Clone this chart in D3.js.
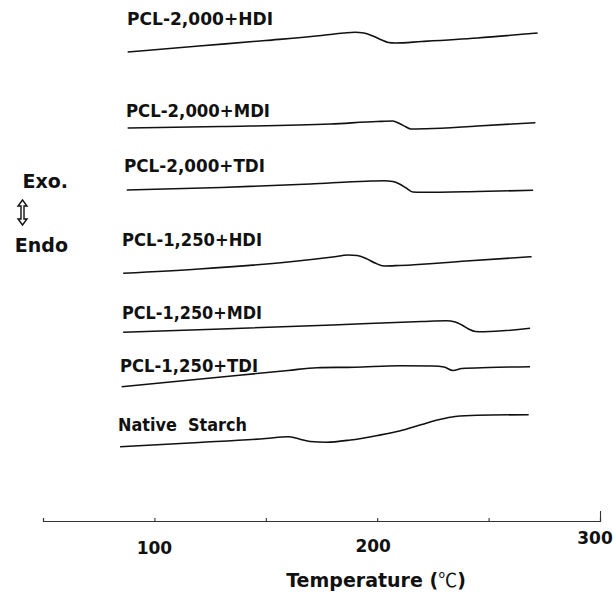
<!DOCTYPE html>
<html>
<head>
<meta charset="utf-8">
<script src="https://cdn.jsdelivr.net/npm/d3@7"></script>
<style>
  body { margin: 0; background: #fff; }
  text { font-family: "DejaVu Sans", Arial, sans-serif; font-weight: bold; fill: #111; }
</style>
</head>
<body>
<svg id="dsc" width="613" height="594"></svg>
<script>
// DSC thermograms: [temperature (C), heat flow signal (arbitrary, offset per curve)]
const pcl2000HDI = [[88,469],[120,475],[150,480.5],[175,485.5],[185,488],[190,488.8],[194,488],[198,485],[202,481],[205,478.5],[208,478],[220,479.5],[245,483],[272,488]];
const pcl2000MDI = [[88,393],[130,394.5],[179,397],[200,399.5],[207,400],[210,397.5],[213,394],[215,392],[222,392.3],[245,395],[271,398.3]];
const pcl2000TDI = [[87.6,331],[130,333.5],[170,337],[195,339.8],[203,340.3],[207,339.5],[210,337],[213,333],[216,329],[220,328.7],[245,329.5],[270,330.7]];
const pcl1250HDI = [[86,247.7],[120,252],[160,259],[180,264],[187,266],[191,265.5],[195,262.5],[199,258],[203,255],[210,255.5],[240,260],[269.3,264.3]];
const pcl1250MDI = [[86,188.7],[130,192],[180,196],[220,199.5],[231,200.3],[235,199],[238,196],[241,192],[244,189.5],[248,189.3],[268.6,192.7]];
const pcl1250TDI = [[85.3,134.3],[130,144],[160,150.5],[173,153.3],[190,153.8],[210,155.3],[225,155],[230,154],[234,150.5],[238,152.5],[250,153.5],[268.6,154.3]];
const nativeStarch = [[84.6,74.3],[120,78.5],[150,82.5],[160,84.3],[165,82],[170,79.5],[177,78.7],[188,81],[200,85.5],[210,90],[220,96.5],[228,101.5],[235,104.5],[245,105.8],[268,106.3]];

const seriesNames = ["PCL-2,000+HDI", "PCL-2,000+MDI", "PCL-2,000+TDI", "PCL-1,250+HDI", "PCL-1,250+MDI", "PCL-1,250+TDI", "Native  Starch"];
const seriesData = [pcl2000HDI, pcl2000MDI, pcl2000TDI, pcl1250HDI, pcl1250MDI, pcl1250TDI, nativeStarch];
const tickLabels = [100, 200, 300];
const minorTicks = [100, 150, 200, 250, 300];

const svg = d3.select("#dsc");

const x = d3.scaleLinear().domain([50, 300]).range([43, 600]);
const y = d3.scaleLinear().domain([0, 500]).range([521, 21]);

// label placement (left x, baseline) and stretched widths, taken from the figure
const labelPos = [[127, 25], [126, 117], [124, 172], [122, 246], [122, 319], [120, 372], [118, 431]];
const labelWidth = [146, 144, 141, 140, 140, 138, 129];

const line = d3.line()
  .x(d => x(d[0]))
  .y(d => y(d[1]))
  .curve(d3.curveMonotoneX);

svg.selectAll("path.trace")
  .data(seriesData)
  .enter()
  .append("path")
  .attr("class", "trace")
  .attr("d", line)
  .attr("fill", "none")
  .attr("stroke", "#111")
  .attr("stroke-width", 1.6)
  .attr("stroke-linejoin", "round");

svg.selectAll("text.lbl")
  .data(seriesNames)
  .enter()
  .append("text")
  .attr("class", "lbl")
  .attr("x", (d, i) => labelPos[i][0])
  .attr("y", (d, i) => labelPos[i][1])
  .attr("textLength", (d, i) => labelWidth[i])
  .attr("lengthAdjust", "spacingAndGlyphs")
  .style("font-size", "17px")
  .style("white-space", "pre")
  .text(d => d);

// x axis, ticks pointing up
const axis = svg.append("g")
  .attr("transform", `translate(0,${y(0)})`)
  .call(d3.axisBottom(x).tickValues(minorTicks).tickSize(-3).tickSizeOuter(-3).tickFormat(""));

axis.select(".domain").attr("stroke", "#333").attr("stroke-width", 1.2);
axis.selectAll(".tick line").attr("stroke", "#333").attr("stroke-width", 1.1)
  .filter(d => d === 300).attr("y2", -10);

// tick labels sit a little unevenly in the original scan
const labelNudge = { 100: [0, 33], 200: [-4, 31], 300: [-5, 23] };
svg.selectAll("text.tick-lbl")
  .data(tickLabels)
  .enter()
  .append("text")
  .attr("class", "tick-lbl")
  .attr("x", d => x(d) + labelNudge[d][0])
  .attr("y", d => y(0) + labelNudge[d][1])
  .attr("text-anchor", "middle")
  .style("font-size", "17px")
  .text(d => d);

const title = svg.append("text")
  .attr("x", 376)
  .attr("y", 587)
  .attr("text-anchor", "middle")
  .style("font-size", "19px")
  .style("white-space", "pre");
title.append("tspan").text("Temperature (");
title.append("tspan")
  .style("font-family", "'Noto Sans CJK KR', 'DejaVu Sans', sans-serif")
  .style("font-weight", "normal")
  .text("℃");
title.append("tspan").text(")");

// Exo / Endo indicator
svg.append("text")
  .attr("x", 68).attr("y", 188)
  .attr("text-anchor", "end")
  .style("font-size", "19px")
  .text("Exo.");

svg.append("text")
  .attr("x", 68).attr("y", 252)
  .attr("text-anchor", "end")
  .style("font-size", "19px")
  .text("Endo");

const ax = 22.5, arrowTop = 200, arrowBot = 225;
svg.append("path")
  .attr("d", `M${ax},${arrowTop} L${ax + 4.5},${arrowTop + 6} L${ax + 1.5},${arrowTop + 6} L${ax + 1.5},${arrowBot - 6} L${ax + 4.5},${arrowBot - 6} L${ax},${arrowBot} L${ax - 4.5},${arrowBot - 6} L${ax - 1.5},${arrowBot - 6} L${ax - 1.5},${arrowTop + 6} L${ax - 4.5},${arrowTop + 6} Z`)
  .attr("fill", "#fff")
  .attr("stroke", "#111")
  .attr("stroke-width", 1.4);
</script>
</body>
</html>
